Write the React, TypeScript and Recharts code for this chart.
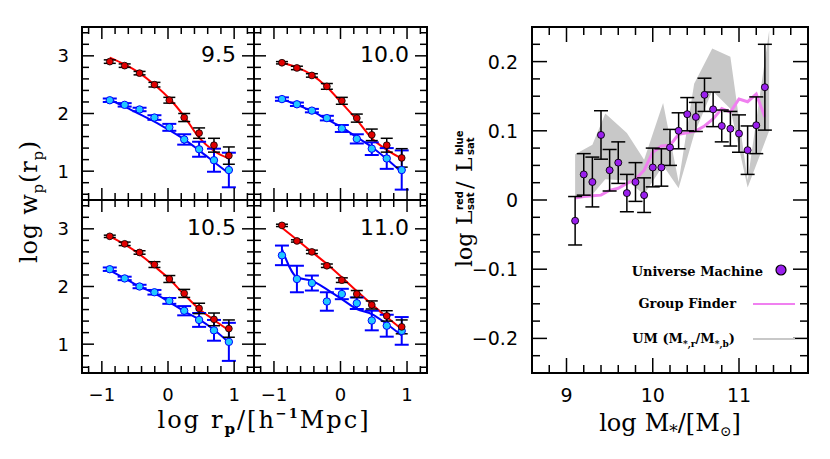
import React from 'react';
import { ComposedChart, Scatter, Line, Area, XAxis, YAxis, ErrorBar } from 'recharts';

// ---------- left: projected correlation functions (4 stellar-mass bins) ----------
const rpLog = [-0.88, -0.655, -0.43, -0.205, 0.02, 0.245, 0.47, 0.695, 0.92];
const massBins = ['9.5', '10.0', '10.5', '11.0'];

const redObs95 = [2.9, 2.83, 2.7, 2.5, 2.23, 1.93, 1.66, 1.45, 1.27];
const redErr95 = [0.03, 0.03, 0.03, 0.04, 0.05, 0.07, 0.09, 0.12, 0.15];
const redModel95 = [2.97, 2.85, 2.7, 2.5, 2.26, 1.95, 1.58, 1.35, 1.22];
const blueObs95 = [2.23, 2.15, 2.07, 1.93, 1.76, 1.55, 1.38, 1.19, 1.02];
const blueErr95 = [0.03, 0.03, 0.03, 0.04, 0.06, 0.09, 0.13, 0.2, 0.3];
const blueModel95 = [2.24, 2.12, 1.99, 1.86, 1.71, 1.55, 1.36, 1.16, 0.96];

const redObs100 = [2.88, 2.79, 2.66, 2.47, 2.22, 1.92, 1.63, 1.45, 1.23];
const redErr100 = [0.02, 0.03, 0.03, 0.05, 0.06, 0.07, 0.1, 0.12, 0.16];
const redModel100 = [2.88, 2.8, 2.67, 2.46, 2.18, 1.89, 1.57, 1.37, 1.22];
const blueObs100 = [2.25, 2.16, 2.05, 1.92, 1.74, 1.56, 1.39, 1.22, 1.02];
const blueErr100 = [0.03, 0.03, 0.03, 0.04, 0.06, 0.08, 0.11, 0.18, 0.34];
const blueModel100 = [2.25, 2.15, 2.04, 1.9, 1.76, 1.59, 1.42, 1.21, 0.98];

const redObs105 = [2.87, 2.74, 2.59, 2.38, 2.13, 1.88, 1.62, 1.43, 1.27];
const redErr105 = [0.02, 0.03, 0.03, 0.05, 0.06, 0.07, 0.09, 0.11, 0.15];
const redModel105 = [2.87, 2.73, 2.56, 2.35, 2.13, 1.86, 1.61, 1.42, 1.24];
const blueObs105 = [2.3, 2.14, 2.0, 1.9, 1.75, 1.58, 1.42, 1.24, 1.04];
const blueErr105 = [0.03, 0.03, 0.03, 0.04, 0.05, 0.08, 0.12, 0.18, 0.33];
const blueModel105 = [2.28, 2.14, 2.0, 1.88, 1.73, 1.57, 1.43, 1.25, 1.03];

const redObs110 = [3.06, 2.79, 2.6, 2.36, 2.11, 1.87, 1.68, 1.49, 1.3];
const redErr110 = [0.02, 0.02, 0.03, 0.03, 0.04, 0.06, 0.07, 0.09, 0.12];
const redModel110 = [3.02, 2.81, 2.6, 2.39, 2.16, 1.92, 1.69, 1.47, 1.26];
const blueObs110 = [2.54, 2.13, 2.06, 1.74, 1.87, 1.71, 1.41, 1.32, 1.23];
const blueErr110 = [0.17, 0.23, 0.13, 0.16, 0.09, 0.1, 0.17, 0.19, 0.24];
const blueModel110 = [2.65, 2.16, 2.1, 1.95, 1.78, 1.61, 1.52, 1.35, 1.15];

const rpTicks = [-1.2, -1, -0.8, -0.6, -0.4, -0.2, 0, 0.2, 0.4, 0.6, 0.8, 1, 1.2];
const rpLabelTicks = [-1, 0, 1];
const wpTicks = [0.6, 0.8, 1, 1.2, 1.4, 1.6, 1.8, 2, 2.2, 2.4, 2.6, 2.8, 3, 3.2, 3.4];
const wpLabelTicks = [1, 2, 3];

// ---------- right: satellite luminosity ratio ----------
const stellarMass = [9.1, 9.2, 9.3, 9.4, 9.5, 9.6, 9.7, 9.8, 9.9, 10.0, 10.1, 10.2, 10.3, 10.4, 10.5, 10.6, 10.7, 10.8, 10.9, 11.0, 11.1, 11.2, 11.3];
const umRatio = [-0.03, 0.037, 0.026, 0.094, 0.043, 0.054, 0.01, 0.026, 0.007, 0.047, 0.047, 0.076, 0.1, 0.124, 0.12, 0.152, 0.131, 0.107, 0.103, 0.096, 0.072, 0.108, 0.163];
const umRatioErr = [0.035, 0.03, 0.036, 0.035, 0.03, 0.03, 0.027, 0.028, 0.025, 0.028, 0.027, 0.026, 0.026, 0.024, 0.021, 0.024, 0.025, 0.023, 0.025, 0.027, 0.035, 0.041, 0.062];
const groupFinderRatio = [0.003, 0.005, 0.006, 0.007, 0.014, 0.017, 0.024, 0.03, 0.043, 0.069, 0.078, 0.079, 0.095, 0.097, 0.1, 0.107, 0.117, 0.132, 0.127, 0.146, 0.142, 0.153, 0.12];

const bandMass = [9.1, 9.3, 9.45, 9.7, 9.9, 10.12, 10.3, 10.48, 10.69, 10.9, 11.1, 11.35];
const bandHigh = [0.066, 0.08, 0.125, 0.097, 0.058, 0.14, 0.026, 0.168, 0.219, 0.207, 0.028, 0.245];
const bandLow = [0.003, 0.008, 0.03, 0.028, 0.008, 0.05, 0.017, 0.095, 0.158, 0.132, 0.018, 0.1];

const mTicks = [8.8, 9, 9.2, 9.4, 9.6, 9.8, 10, 10.2, 10.4, 10.6, 10.8, 11, 11.2, 11.4, 11.6];
const mLabelTicks = [9, 10, 11];
const ratioTicks = [-0.225, -0.2, -0.175, -0.15, -0.125, -0.1, -0.075, -0.05, -0.025, 0, 0.025, 0.05, 0.075, 0.1, 0.125, 0.15, 0.175, 0.2, 0.225];
const ratioLabelTicks = [-0.2, -0.1, 0, 0.1, 0.2];

// ---------- helpers ----------
const SANS = 'DejaVu Sans';
const SERIF = 'DejaVu Serif';
const frame = { stroke: '#000', strokeWidth: 2, strokeLinecap: 'square' as const };

const inList = (v: number, list: number[]) => list.some((t) => Math.abs(t - v) < 1e-6);
const fmtInt = (v: number) => (v < 0 ? '\u2212' + Math.abs(v) : String(v));
const fmtDec = (v: number) => (Math.abs(v) < 1e-9 ? '0' : v < 0 ? '\u2212' + Math.abs(v).toFixed(1) : v.toFixed(1));

type Side = 'bottom' | 'top' | 'left' | 'right';
function makeTick(side: Side, majors: number[], showLabels: boolean, fmt: (v: number) => string, majorLen: number, minorLen: number, gap: number, fontSize = 18) {
  return (props: any) => {
    const { x, y, payload } = props;
    const v = Number(payload.value);
    const major = inList(v, majors);
    const len = major ? majorLen : minorLen;
    let x2 = x;
    let y2 = y;
    if (side === 'bottom') y2 = y - len;
    else if (side === 'top') y2 = y + len;
    else if (side === 'left') x2 = x + len;
    else x2 = x - len;
    return (
      <g>
        <line x1={x} y1={y} x2={x2} y2={y2} stroke="#000" strokeWidth={1.5} />
        {showLabels && major && side === 'bottom' && (
          <text x={x} y={y + gap} textAnchor="middle" dominantBaseline="central" fontFamily={SANS} fontSize={fontSize} fill="#000">
            {fmt(v)}
          </text>
        )}
        {showLabels && major && side === 'left' && (
          <text x={x - gap} y={y} textAnchor="end" dominantBaseline="central" fontFamily={SANS} fontSize={fontSize} fill="#000">
            {fmt(v)}
          </text>
        )}
      </g>
    );
  };
}

const AXL = 50;
const AXR = 6;
const AXT = 6;
const AXB = 40;

type PanelData = {
  label: string;
  redObs: number[];
  redErr: number[];
  redModel: number[];
  blueObs: number[];
  blueErr: number[];
  blueModel: number[];
};

const panels: PanelData[] = [
  { label: massBins[0], redObs: redObs95, redErr: redErr95, redModel: redModel95, blueObs: blueObs95, blueErr: blueErr95, blueModel: blueModel95 },
  { label: massBins[1], redObs: redObs100, redErr: redErr100, redModel: redModel100, blueObs: blueObs100, blueErr: blueErr100, blueModel: blueModel100 },
  { label: massBins[2], redObs: redObs105, redErr: redErr105, redModel: redModel105, blueObs: blueObs105, blueErr: blueErr105, blueModel: blueModel105 },
  { label: massBins[3], redObs: redObs110, redErr: redErr110, redModel: redModel110, blueObs: blueObs110, blueErr: blueErr110, blueModel: blueModel110 },
];

const colLeft = [82, 254];
const colWidth = [172, 173];
const rowTop = [27, 200];
const rowHeight = 173;

const redDot = (props: any) => <circle cx={props.cx} cy={props.cy} r={3.4} fill="#e00000" stroke="#000" strokeWidth={0.8} />;
const blueDot = (props: any) => <circle cx={props.cx} cy={props.cy} r={3.7} fill="#20c8ff" stroke="#0000ff" strokeWidth={1} />;
const purpleDot = (props: any) => <circle cx={props.cx} cy={props.cy} r={3.5} fill="#9a1fee" stroke="#000" strokeWidth={0.9} />;

function ClusteringPanel({ p, col, row }: { p: PanelData; col: number; row: number }) {
  const left = colLeft[col];
  const top = rowTop[row];
  const width = colWidth[col];
  const height = rowHeight;
  const showX = row === 1;
  const showY = col === 0;
  const rows = rpLog.map((x, i) => ({
    x,
    red: p.redObs[i],
    redErr: p.redErr[i],
    redModel: p.redModel[i],
    blue: p.blueObs[i],
    blueErr: p.blueErr[i],
    blueModel: p.blueModel[i],
  }));
  return (
    <div style={{ position: 'absolute', left: left - AXL, top: top - AXT }}>
      <ComposedChart width={AXL + width + AXR} height={AXT + height + AXB} data={rows} margin={{ top: 0, right: 0, bottom: 0, left: 0 }}>
        <XAxis dataKey="x" type="number" domain={[-1.3, 1.3]} ticks={rpTicks} interval={0} allowDataOverflow height={AXB} tickSize={0} tickMargin={0} axisLine={frame} tickLine={false} tick={makeTick('bottom', rpLabelTicks, showX, fmtInt, 12, 7, 21)} />
        <XAxis xAxisId="top" orientation="top" dataKey="x" type="number" domain={[-1.3, 1.3]} ticks={rpTicks} interval={0} allowDataOverflow height={AXT} tickSize={0} tickMargin={0} axisLine={frame} tickLine={false} tick={makeTick('top', rpLabelTicks, false, fmtInt, 12, 7, 0)} />
        <YAxis type="number" domain={[0.5, 3.5]} ticks={wpTicks} interval={0} allowDataOverflow width={AXL} tickSize={0} tickMargin={0} axisLine={frame} tickLine={false} tick={makeTick('left', wpLabelTicks, showY, fmtInt, 12, 7, 13)} />
        <YAxis yAxisId="right" orientation="right" type="number" domain={[0.5, 3.5]} ticks={wpTicks} interval={0} allowDataOverflow width={AXR} tickSize={0} tickMargin={0} axisLine={frame} tickLine={false} tick={makeTick('right', wpLabelTicks, false, fmtInt, 12, 7, 0)} />
        <Line dataKey="blueModel" type="monotone" stroke="#0000ff" strokeWidth={2} dot={false} activeDot={false} isAnimationActive={false} />
        <Line dataKey="redModel" type="monotone" stroke="#ff0000" strokeWidth={2} dot={false} activeDot={false} isAnimationActive={false} />
        <Scatter data={rows} dataKey="blue" shape={blueDot} isAnimationActive={false}>
          <ErrorBar dataKey="blueErr" direction="y" width={7} stroke="#0000ff" strokeWidth={2} />
        </Scatter>
        <Scatter data={rows} dataKey="red" shape={redDot} isAnimationActive={false}>
          <ErrorBar dataKey="redErr" direction="y" width={6} stroke="#000" strokeWidth={1.5} />
        </Scatter>
      </ComposedChart>
    </div>
  );
}

const RP_LEFT = 532;
const RP_TOP = 27;
const RP_W = 276;
const RP_H = 346;
const RAXL = 80;

function RatioPanel() {
  const bandRows = bandMass.map((x, i) => ({ x, range: [bandLow[i], bandHigh[i]] }));
  const gfRows = stellarMass.map((x, i) => ({ x, gf: groupFinderRatio[i] }));
  const ptRows = stellarMass.map((x, i) => ({ x, um: umRatio[i], err: umRatioErr[i] }));
  return (
    <div style={{ position: 'absolute', left: RP_LEFT - RAXL, top: RP_TOP - AXT }}>
      <ComposedChart width={RAXL + RP_W + AXR} height={AXT + RP_H + AXB} data={bandRows} margin={{ top: 0, right: 0, bottom: 0, left: 0 }}>
        <XAxis dataKey="x" type="number" domain={[8.6, 11.8]} ticks={mTicks} interval={0} allowDataOverflow height={AXB} tickSize={0} tickMargin={0} axisLine={frame} tickLine={false} tick={makeTick('bottom', mLabelTicks, true, fmtInt, 15, 8, 22, 19)} />
        <XAxis xAxisId="top" orientation="top" dataKey="x" type="number" domain={[8.6, 11.8]} ticks={mTicks} interval={0} allowDataOverflow height={AXT} tickSize={0} tickMargin={0} axisLine={frame} tickLine={false} tick={makeTick('top', mLabelTicks, false, fmtInt, 15, 8, 0)} />
        <YAxis type="number" domain={[-0.25, 0.25]} ticks={ratioTicks} interval={0} allowDataOverflow width={RAXL} tickSize={0} tickMargin={0} axisLine={frame} tickLine={false} tick={makeTick('left', ratioLabelTicks, true, fmtDec, 15, 8, 14, 19)} />
        <YAxis yAxisId="right" orientation="right" type="number" domain={[-0.25, 0.25]} ticks={ratioTicks} interval={0} allowDataOverflow width={AXR} tickSize={0} tickMargin={0} axisLine={frame} tickLine={false} tick={makeTick('right', ratioLabelTicks, false, fmtDec, 15, 8, 0)} />
        <Area dataKey="range" type="linear" stroke="none" fill="#c8c8c8" fillOpacity={1} dot={false} activeDot={false} isAnimationActive={false} />
        <Line data={gfRows} dataKey="gf" type="linear" stroke="#f080f0" strokeWidth={3} dot={false} activeDot={false} isAnimationActive={false} />
        <Scatter data={ptRows} dataKey="um" shape={purpleDot} isAnimationActive={false}>
          <ErrorBar dataKey="err" direction="y" width={7} stroke="#000" strokeWidth={1.5} />
        </Scatter>
      </ComposedChart>
    </div>
  );
}

function Overlay() {
  const subSize = 15;
  return (
    <svg width={830} height={459} style={{ position: 'absolute', left: 0, top: 0, pointerEvents: 'none' }}>
      {/* panel mass-bin labels */}
      {panels.map((p, i) => {
        const col = i % 2;
        const row = Math.floor(i / 2);
        return (
          <text key={p.label} x={colLeft[col] + colWidth[col] - 18} y={rowTop[row] + 35} textAnchor="end" fontFamily={SANS} fontSize={22} fill="#000">
            {p.label}
          </text>
        );
      })}
      {/* left y title */}
      <text transform="translate(37,201.5) rotate(-90)" textAnchor="middle" fontFamily={SERIF} fontSize={24} letterSpacing={0.8} fill="#000">
        log w<tspan dy={6} fontSize={subSize}>p</tspan>
        <tspan dy={-6}>(r</tspan>
        <tspan dy={6} fontSize={subSize}>p</tspan>
        <tspan dy={-6}>)</tspan>
      </text>
      {/* left x title */}
      <text x={264} y={428} textAnchor="middle" fontFamily={SERIF} fontSize={24} letterSpacing={2} fill="#000">
        log<tspan dx={10}>r</tspan>
        <tspan dy={6} fontSize={subSize} fontWeight="bold">p</tspan>
        <tspan dy={-6}>/[h</tspan>
        <tspan dy={-10} fontSize={13} fontWeight="bold">{'\u2212'}1</tspan>
        <tspan dy={10}>Mpc]</tspan>
      </text>
      {/* right x title */}
      <text x={670} y={431} textAnchor="middle" fontFamily={SERIF} fontSize={24} fill="#000">
        log<tspan dx={8}>M</tspan>
        <tspan dy={6} fontSize={17}>*</tspan>
        <tspan dy={-6}>/[M</tspan>
        <tspan dy={5} fontSize={14}>{'\u2299'}</tspan>
        <tspan dy={-5}>]</tspan>
      </text>
      {/* right y title */}
      <g transform="translate(472,267) rotate(-90)" fontFamily={SERIF} fill="#000">
        <text x={0} y={0} fontSize={22}>log</text>
        <text x={42} y={0} fontSize={22}>L</text>
        <text x={57} y={-9} fontSize={10} fontFamily={SANS} fontWeight="bold">red</text>
        <text x={57} y={2} fontSize={10} fontFamily={SANS} fontWeight="bold">sat</text>
        <text x={78} y={0} fontSize={22}>/</text>
        <text x={95} y={0} fontSize={22}>L</text>
        <text x={112} y={-9} fontSize={10} fontFamily={SANS} fontWeight="bold">blue</text>
        <text x={112} y={2} fontSize={10} fontFamily={SANS} fontWeight="bold">sat</text>
      </g>
      {/* legend */}
      <text x={763} y={276} textAnchor="end" fontFamily={SERIF} fontSize={13} fontWeight="bold" fill="#000">Universe Machine</text>
      <circle cx={781} cy={270} r={5} fill="#9a1fee" stroke="#000" strokeWidth={1.2} />
      <text x={736} y={308} textAnchor="end" fontFamily={SERIF} fontSize={13} fontWeight="bold" fill="#000">Group Finder</text>
      <line x1={753} y1={304} x2={795} y2={304} stroke="#f080f0" strokeWidth={2} />
      <text x={735} y={343} textAnchor="end" fontFamily={SERIF} fontSize={13} fontWeight="bold" fill="#000">
        UM (M<tspan dy={4} fontSize={9}>*,r</tspan>
        <tspan dy={-4}>/M</tspan>
        <tspan dy={4} fontSize={9}>*,b</tspan>
        <tspan dy={-4}>)</tspan>
      </text>
      <line x1={753} y1={339} x2={795} y2={339} stroke="#c8c8c8" strokeWidth={2} />
    </svg>
  );
}

export default function App() {
  return (
    <div style={{ position: 'absolute', left: 0, top: 0, width: 830, height: 459, background: '#fff', overflow: 'hidden' }}>
      {panels.map((p, i) => (
        <ClusteringPanel key={p.label} p={p} col={i % 2} row={Math.floor(i / 2)} />
      ))}
      <RatioPanel />
      <Overlay />
    </div>
  );
}
